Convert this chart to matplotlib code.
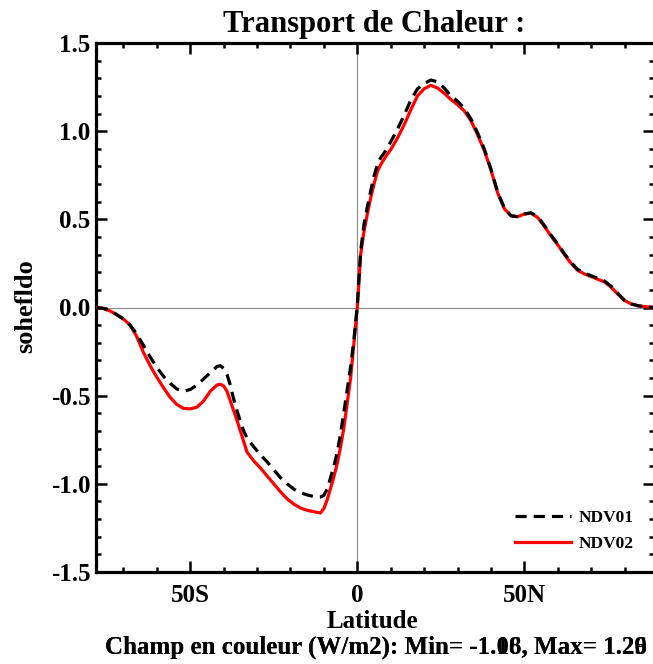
import numpy as np
import matplotlib
matplotlib.use("Agg")
from matplotlib import pyplot as plt
from matplotlib.ticker import MultipleLocator

plt.rcParams['font.family'] = ['Liberation Serif', 'DejaVu Serif']
plt.rcParams['font.weight'] = 'bold'

# latitudes (deg, negative = south)
lat = [-78, -76, -74, -72, -70, -68, -66, -64, -62, -60, -58, -56, -54, -52,
       -50, -48, -46, -44, -42, -41, -40, -39, -38, -37, -36, -35, -34, -33,
       -31, -29, -27, -25, -23, -21, -19, -17, -15, -13, -12, -11, -10, -9,
       -8, -7, -6, -5, -4, -3, -2, -1,
       0, 1, 2, 3, 4, 5, 6, 7, 8, 9, 10, 12, 14, 16, 18, 20, 22, 24, 26, 28,
       30, 32, 34, 36, 38, 40, 42, 44, 46, 48, 50, 52, 54, 56, 58, 60, 62,
       64, 66, 68, 70, 72, 74, 76, 78, 80, 82, 84, 86, 88.8]

ndv01 = [0.0, -0.005, -0.02, -0.04, -0.065, -0.10, -0.15, -0.215, -0.28, -0.34,
         -0.39, -0.43, -0.462, -0.475, -0.465, -0.44, -0.405, -0.37, -0.335,
         -0.33, -0.345, -0.38, -0.44, -0.52, -0.585, -0.645, -0.70, -0.74,
         -0.79, -0.835, -0.875, -0.92, -0.965, -1.0, -1.03, -1.05, -1.063,
         -1.072, -1.075, -1.075, -1.065, -1.03, -0.965, -0.90, -0.82, -0.715,
         -0.59, -0.465, -0.335, -0.18,
         0.01, 0.32, 0.47, 0.57, 0.66, 0.745, 0.81, 0.85, 0.875, 0.905, 0.94,
         1.01, 1.09, 1.175, 1.24, 1.27, 1.29, 1.28, 1.245, 1.20, 1.17, 1.13,
         1.07, 0.99, 0.90, 0.785, 0.655, 0.565, 0.52, 0.515, 0.53, 0.537,
         0.515, 0.465, 0.41, 0.36, 0.305, 0.255, 0.215, 0.195, 0.18, 0.165,
         0.15, 0.12, 0.08, 0.04, 0.02, 0.01, 0.005, 0.0]

ndv02 = [0.0, -0.005, -0.02, -0.04, -0.065, -0.10, -0.165, -0.255, -0.33, -0.395,
         -0.455, -0.51, -0.55, -0.572, -0.575, -0.565, -0.53, -0.475, -0.44,
         -0.435, -0.445, -0.475, -0.53, -0.585, -0.64, -0.70, -0.76, -0.82,
         -0.87, -0.91, -0.955, -1.0, -1.045, -1.085, -1.115, -1.137, -1.15,
         -1.158, -1.162, -1.165, -1.14, -1.09, -1.025, -0.96, -0.885, -0.79,
         -0.68, -0.54, -0.40, -0.20,
         0.0, 0.30, 0.43, 0.53, 0.62, 0.70, 0.77, 0.81, 0.84, 0.87, 0.895,
         0.96, 1.035, 1.12, 1.20, 1.24, 1.26, 1.245, 1.215, 1.18, 1.15, 1.115,
         1.06, 0.98, 0.89, 0.78, 0.65, 0.56, 0.52, 0.515, 0.53, 0.535, 0.51,
         0.46, 0.405, 0.355, 0.30, 0.25, 0.21, 0.19, 0.175, 0.16, 0.145,
         0.115, 0.075, 0.04, 0.02, 0.01, 0.005, 0.0]

xticks = [-50, 0, 50]
xticklabels = ["50S", "0", "50N"]
yticks = [-1.5, -1.0, -0.5, 0.0, 0.5, 1.0, 1.5]

fig = plt.figure(figsize=(6.53, 6.64), dpi=100)
ax = fig.add_axes([96 / 653, 1 - 572 / 664, 558 / 653, 529 / 664])

ax.axhline(0, color='#888888', lw=0.8, zorder=1)
ax.axvline(0, color='#888888', lw=0.8, zorder=1)

l2, = ax.plot(lat, ndv02, color='red', lw=2.3, label='NDV02', zorder=3)
l1, = ax.plot(lat, ndv01, color='black', lw=2.3, ls=(0, (3.5, 2.2)),
              label='NDV01', zorder=4)

ax.set_xlim(-78.2, 88.8)
ax.set_ylim(-1.5, 1.5)
ax.set_xticks(xticks)
ax.set_xticklabels(xticklabels)
ax.set_yticks(yticks)
ax.set_yticklabels([f"{v:.1f}" for v in yticks])
ax.xaxis.set_minor_locator(MultipleLocator(10))
ax.yaxis.set_minor_locator(MultipleLocator(0.1))

ax.tick_params(which='both', direction='in', top=True, right=True, width=1.8)
ax.tick_params(which='major', length=8, labelsize=18)
ax.tick_params(which='minor', length=3.6)
ax.tick_params(axis='x', pad=9)
ax.tick_params(axis='y', pad=4)
for s in ax.spines.values():
    s.set_linewidth(2.3)

ax.legend(handles=[l1, l2], loc='upper left', bbox_to_anchor=(0.751, 0.117),
          frameon=False, fontsize=12.5, handlelength=3.2, handletextpad=0.46,
          labelspacing=0.55, borderpad=0, borderaxespad=0)

fig.text(374 / 653, 1 - 32 / 664, "Transport de Chaleur :", ha='center',
         va='baseline', fontsize=22)
fig.text(26 / 653, 1 - 306 / 664, "sohefldo", rotation=90, ha='center',
         va='center', fontsize=19)
fig.text(372 / 653, 1 - 628 / 664, "Latitude", ha='center', va='baseline',
         fontsize=18)
# two overlapping captions, as in the original
fig.text(376 / 653, 1 - 654 / 664,
         "Champ en couleur (W/m2): Min= -1.08, Max= 1.29", ha='center',
         va='baseline', fontsize=18)
fig.text(376 / 653, 1 - 654 / 664,
         "Champ en couleur (W/m2): Min= -1.16, Max= 1.26", ha='center',
         va='baseline', fontsize=18)

fig.savefig("out.png", dpi=100)
